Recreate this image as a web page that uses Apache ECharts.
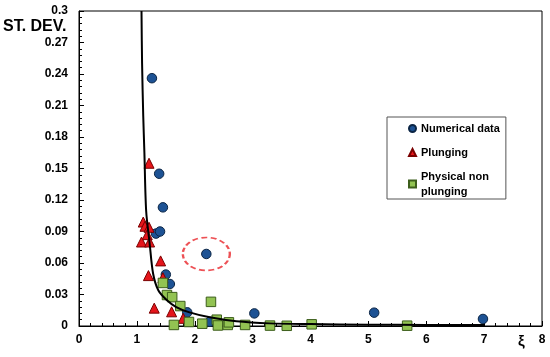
<!DOCTYPE html>
<html>
<head>
<meta charset="utf-8">
<script src="https://cdn.jsdelivr.net/npm/echarts@6/dist/echarts.min.js"></script>
<style>html,body{margin:0;padding:0;background:#fff}#c{width:550px;height:357px}</style>
</head>
<body>
<div id="c"></div>
<script>
var xTicks = [0,1,2,3,4,5,6,7,8];
var yTicks = [0,0.03,0.06,0.09,0.12,0.15,0.18,0.21,0.24,0.27,0.3];
var seriesNames = ['Numerical data','Plunging','Physical non plunging'];
var numericalData = [[1.57,0.028],[1.26,0.236],[1.385,0.145],[1.45,0.113],[1.33,0.088],[1.40,0.090],[1.50,0.049],[1.57,0.040],[1.87,0.013],[2.26,0.004],[3.03,0.012],[5.10,0.0127],[6.98,0.0067],[2.20,0.0686]];
var plungingData = [[1.21,0.155],[1.11,0.099],[1.14,0.095],[1.21,0.094],[1.18,0.087],[1.08,0.080],[1.22,0.080],[1.41,0.062],[1.20,0.048],[1.45,0.046],[1.30,0.017],[1.60,0.0135],[1.80,0.0073]];
var physicalData = [[1.45,0.041],[1.52,0.0295],[1.61,0.0275],[1.75,0.019],[2.28,0.023],[1.64,0.001],[1.90,0.0038],[2.13,0.0022],[2.38,0.006],[2.40,0.0005],[2.57,0.001],[2.59,0.0035],[2.87,0.001],[3.30,0.0004],[3.59,0.0002],[4.02,0.0016],[5.67,0.0003]];
var curveData = [[1.08,0.30],[1.09,0.25],[1.11,0.20],[1.13,0.165],[1.16,0.11],[1.22,0.079],[1.28,0.05],[1.37,0.034],[1.51,0.025],[1.68,0.018],[1.91,0.013],[2.26,0.0083],[2.72,0.0045],[3.3,0.0025],[4,0.0018],[5,0.0012],[6,0.001],[7,0.0009]];
var highlightPoint = [[2.20,0.0686]];

var FONT = '"Liberation Sans", Arial, sans-serif';
var chart = echarts.init(document.getElementById('c'), null, {renderer:'canvas'});
chart.setOption({
  animation: false,
  grid: {left:79, right:8, top:11, bottom:31, show:true, borderColor:'#000', borderWidth:1, backgroundColor:'#fff'},
  xAxis: {
    type:'value', min:xTicks[0], max:xTicks[xTicks.length-1], interval:1,
    axisLine:{show:true, onZero:false, lineStyle:{color:'#000', width:1}},
    axisTick:{show:true, inside:true, length:5, lineStyle:{color:'#000'}},
    minorTick:{show:true, splitNumber:5, length:3, lineStyle:{color:'#000'}},
    splitLine:{show:false},
    axisLabel:{color:'#000', fontFamily:FONT, fontWeight:'bold', fontSize:12, margin:8}
  },
  yAxis: {
    type:'value', min:yTicks[0], max:yTicks[yTicks.length-1], interval:0.03,
    axisLine:{show:true, onZero:false, lineStyle:{color:'#000', width:1}},
    axisTick:{show:true, inside:true, length:5, lineStyle:{color:'#000'}},
    minorTick:{show:true, splitNumber:5, length:3, lineStyle:{color:'#000'}},
    splitLine:{show:false},
    axisLabel:{color:'#000', fontFamily:FONT, fontWeight:'bold', fontSize:12, margin:11,
      formatter:function(v){return String(+v.toFixed(2));}}
  },
  legend: {
    orient:'vertical', left:387, top:117,
    data: seriesNames,
    formatter:function(n){return n==='Physical non plunging' ? 'Physical non\nplunging' : n;},
    itemWidth:7, itemHeight:7, itemGap:9,
    padding:[4,6,0,21],
    borderColor:'#555', borderWidth:1, backgroundColor:'#fff',
    textStyle:{color:'#000', fontFamily:FONT, fontWeight:'bold', fontSize:11, lineHeight:15}
  },
  graphic: [
    {type:'text', left:3, top:19, style:{text:'ST. DEV.', fill:'#000', font:'bold 16px '+FONT}},
    {type:'text', left:518, top:334, style:{text:'ξ', fill:'#000', font:'bold 15px '+FONT}}
  ],
  series: [
    {name:seriesNames[0], type:'scatter', data:numericalData, symbol:'circle', symbolSize:9.5, z:3,
      itemStyle:{color:'#1d5294', borderColor:'#0b2545', borderWidth:1, opacity:1}},
    {name:seriesNames[1], type:'scatter', data:plungingData, symbol:'triangle', symbolSize:10, z:3,
      itemStyle:{color:'#e5151b', borderColor:'#7a0000', borderWidth:1, opacity:1}},
    {name:seriesNames[2], type:'scatter', data:physicalData, symbol:'rect', symbolSize:9.5, z:4,
      itemStyle:{color:'#92c352', borderColor:'#3d5e1c', borderWidth:1, opacity:1}},
    {name:'fit', type:'line', data:curveData, smooth:0.3, showSymbol:false, symbol:'none', z:5,
      lineStyle:{color:'#000', width:2}, clip:true},
    {name:'highlight', type:'scatter', data:highlightPoint, symbol:'circle', symbolSize:[47,33], z:2,
      itemStyle:{color:'rgba(0,0,0,0)', borderColor:'#e8252a', borderWidth:2, borderType:[5,3]}, silent:true}
  ]
});
</script>
</body>
</html>
